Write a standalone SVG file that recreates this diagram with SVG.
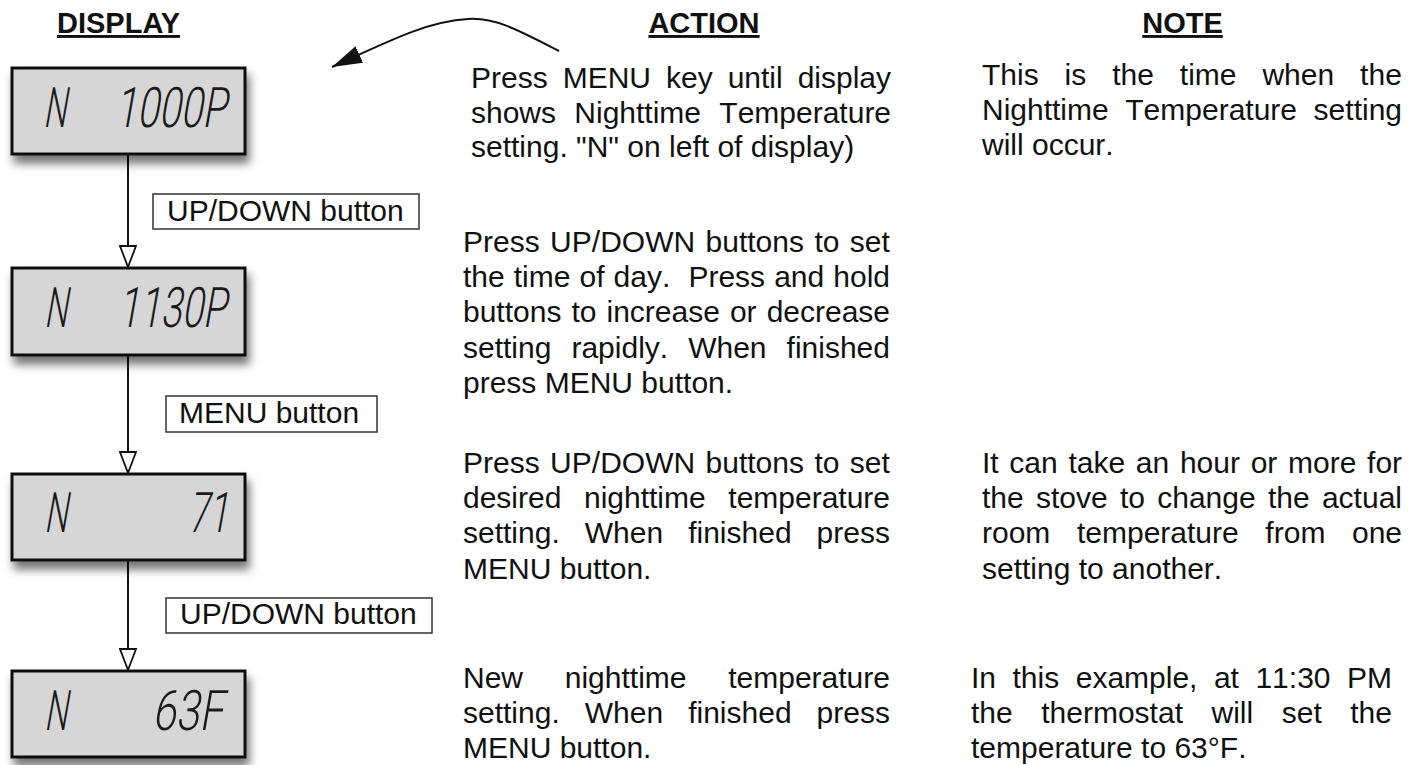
<svg xmlns="http://www.w3.org/2000/svg" width="1420" height="765" viewBox="0 0 1420 765">
<style>
  .t { font-family: 'Liberation Sans', Arial, Helvetica, sans-serif; font-size: 30px; fill: #111; font-kerning: none; }
  .h { font-family: 'Liberation Sans', Arial, Helvetica, sans-serif; font-size: 29px; font-weight: bold; fill: #111; text-anchor: middle; text-decoration: underline; }
  .lbl { fill: #fff; stroke: #333; stroke-width: 1.5; }
  .disp { fill: #d6d6d6; stroke: #111; stroke-width: 3; }
  .seg { font-family: Roboto, Lato, Inter, 'DejaVu Sans', sans-serif; font-weight: 300; font-size: 56px; fill: #1a1a1a; }
  .conn { stroke: #111; stroke-width: 2; fill: none; }
</style>
<defs>
  <filter id="shadow" x="-20%" y="-20%" width="150%" height="160%">
    <feDropShadow dx="3" dy="8" stdDeviation="5" flood-color="#000" flood-opacity="0.55"/>
  </filter>
  <marker id="open" markerUnits="userSpaceOnUse" viewBox="0 0 24 18" refX="22" refY="9" markerWidth="24" markerHeight="18" orient="auto">
    <path d="M1,1 L22,9 L1,17 Z" fill="#fff" stroke="#111" stroke-width="1.8"/>
  </marker>
  <marker id="solid" markerUnits="userSpaceOnUse" viewBox="0 0 30 18" refX="30" refY="9" markerWidth="30" markerHeight="18" orient="auto">
    <path d="M0,0 L30,9 L0,18 Z" fill="#111"/>
  </marker>
</defs>

<g id="headers">
  <text class="h" x="118.5" y="33">DISPLAY</text>
  <text class="h" x="704" y="33">ACTION</text>
  <text class="h" x="1182.5" y="33">NOTE</text>
</g>

<g id="connectors">
  <line class="conn" x1="128" y1="155" x2="128" y2="267" marker-end="url(#open)"/>
  <line class="conn" x1="128" y1="356" x2="128" y2="473" marker-end="url(#open)"/>
  <line class="conn" x1="128" y1="561" x2="128" y2="670" marker-end="url(#open)"/>
  <path class="conn" d="M559,51 C520,31 495,17 468,19 C430,21 395,38 332,67" marker-end="url(#solid)"/>
</g>

<g id="display1">
  <rect class="disp" x="12" y="68" width="233" height="86" filter="url(#shadow)"/>
  <text class="seg" transform="translate(43,127) skewX(-10)" x="0" y="0" textLength="23" lengthAdjust="spacingAndGlyphs">N</text>
  <text class="seg" transform="translate(115,127) skewX(-10)" x="0" y="0" textLength="111" lengthAdjust="spacingAndGlyphs">1000P</text>
</g>
<g id="display2">
  <rect class="disp" x="12" y="268" width="233" height="87" filter="url(#shadow)"/>
  <text class="seg" transform="translate(44,327) skewX(-10)" x="0" y="0" textLength="23" lengthAdjust="spacingAndGlyphs">N</text>
  <text class="seg" transform="translate(118,327) skewX(-10)" x="0" y="0" textLength="108" lengthAdjust="spacingAndGlyphs">1130P</text>
</g>
<g id="display3">
  <rect class="disp" x="12" y="474" width="233" height="86" filter="url(#shadow)"/>
  <text class="seg" transform="translate(44,532) skewX(-10)" x="0" y="0" textLength="23" lengthAdjust="spacingAndGlyphs">N</text>
  <text class="seg" transform="translate(188,532) skewX(-10)" x="0" y="0" textLength="40" lengthAdjust="spacingAndGlyphs">71</text>
</g>
<g id="display4">
  <rect class="disp" x="12" y="671" width="233" height="86" filter="url(#shadow)"/>
  <text class="seg" transform="translate(44,730) skewX(-10)" x="0" y="0" textLength="23" lengthAdjust="spacingAndGlyphs">N</text>
  <text class="seg" transform="translate(152,730) skewX(-10)" x="0" y="0" textLength="71" lengthAdjust="spacingAndGlyphs">63F</text>
</g>

<g id="label1">
  <rect class="lbl" x="153" y="194" width="266" height="35"/>
  <text class="t" x="167" y="221">UP/DOWN button</text>
</g>
<g id="label2">
  <rect class="lbl" x="166" y="396" width="211" height="36"/>
  <text class="t" x="179" y="423">MENU button</text>
</g>
<g id="label3">
  <rect class="lbl" x="166" y="598" width="266" height="35"/>
  <text class="t" x="180" y="624">UP/DOWN button</text>
</g>

<g id="action1">
  <text class="t" x="471" y="88" style="word-spacing:6.65px">Press MENU key until display</text>
  <text class="t" x="471" y="122.5" style="word-spacing:9.95px">shows Nighttime Temperature</text>
  <text class="t" x="471" y="157">setting. "N" on left of display)</text>
</g>
<g id="action2">
  <text class="t" x="463" y="252" style="word-spacing:2.1px">Press UP/DOWN buttons to set</text>
  <text class="t" x="463" y="287.2" xml:space="preserve" style="word-spacing:0.73px;white-space:pre">the time of day.  Press and hold</text>
  <text class="t" x="463" y="322.4" style="word-spacing:1.7px">buttons to increase or decrease</text>
  <text class="t" x="463" y="357.6" style="word-spacing:11.7px">setting rapidly. When finished</text>
  <text class="t" x="463" y="392.8">press MENU button.</text>
</g>
<g id="action3">
  <text class="t" x="463" y="473" style="word-spacing:2.1px">Press UP/DOWN buttons to set</text>
  <text class="t" x="463" y="508" style="word-spacing:14.25px">desired nighttime temperature</text>
  <text class="t" x="463" y="543" style="word-spacing:16.7px">setting. When finished press</text>
  <text class="t" x="463" y="578.5">MENU button.</text>
</g>
<g id="action4">
  <text class="t" x="463" y="688" style="word-spacing:33.4px">New nighttime temperature</text>
  <text class="t" x="463" y="723" style="word-spacing:16.7px">setting. When finished press</text>
  <text class="t" x="463" y="758">MENU button.</text>
</g>

<g id="note1">
  <text class="t" x="982" y="85" style="word-spacing:17.6px">This is the time when the</text>
  <text class="t" x="982" y="120" style="word-spacing:8.25px">Nighttime Temperature setting</text>
  <text class="t" x="982" y="155">will occur.</text>
</g>
<g id="note2">
  <text class="t" x="982" y="473" style="word-spacing:2.36px">It can take an hour or more for</text>
  <text class="t" x="982" y="508" style="word-spacing:3.94px">the stove to change the actual</text>
  <text class="t" x="982" y="543" style="word-spacing:18.3px">room temperature from one</text>
  <text class="t" x="982" y="578.5">setting to another.</text>
</g>
<g id="note3">
  <text class="t" x="971" y="688" style="word-spacing:8.16px">In this example, at 11:30 PM</text>
  <text class="t" x="971" y="723" style="word-spacing:20.2px">the thermostat will set the</text>
  <text class="t" x="971" y="758">temperature to 63°F.</text>
</g>
</svg>
